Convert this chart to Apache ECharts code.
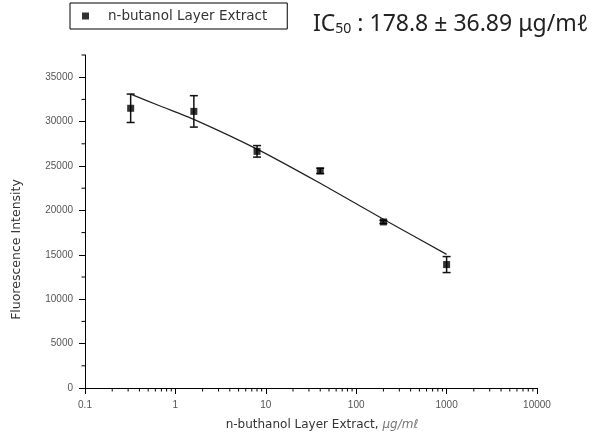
<!DOCTYPE html>
<html>
<head>
<meta charset="utf-8">
<script src="https://cdn.jsdelivr.net/npm/echarts@6/dist/echarts.min.js"></script>
<style>
  html, body { margin: 0; padding: 0; background: #fff; }
  #chart { width: 607px; height: 446px; }
</style>
</head>
<body>
<div id="chart"></div>
<script>
// Extract concentrations (µg/mL), five-fold dilution series
const concentrations = [0.32, 1.6, 8, 40, 200, 1000];
// Mean fluorescence intensity and its standard deviation
const intensityMean = [31500, 31150, 26650, 24450, 18700, 13900];
const intensitySD = [1600, 1770, 650, 300, 180, 900];
// Fitted dose-response curve
const fitConcentrations = [0.32, 0.7, 1.6, 8, 40, 200, 1000];
const fitIntensity = [33100, 31700, 30250, 26900, 23050, 19000, 15050];
// Axis ticks
const yMajorTicks = [0, 5000, 10000, 15000, 20000, 25000, 30000, 35000];
const yMinorTicks = [2500, 7500, 12500, 17500, 22500, 27500, 32500, 37500];
const xDecades = [0.1, 1, 10, 100, 1000];
const xMinorSteps = [2, 3, 4, 5, 6, 7, 8, 9];

const seriesName = 'n-butanol Layer Extract';
const xMinorTicks = [];
xDecades.forEach(d => xMinorSteps.forEach(m => xMinorTicks.push(+(d * m).toPrecision(6))));

const points = concentrations.map((c, i) => [c, intensityMean[i]]);
const errorBars = concentrations.map((c, i) => [c, intensityMean[i] - intensitySD[i], intensityMean[i] + intensitySD[i]]);
const fitLine = fitConcentrations.map((c, i) => [c, fitIntensity[i]]);

const labelFont = '"Liberation Sans", Arial, sans-serif';
const titleFont = '"DejaVu Sans", sans-serif';
const headFont = '"Noto Sans", "Noto Sans CJK KR", sans-serif';

const chart = echarts.init(document.getElementById('chart'), null, { renderer: 'canvas' });

chart.setOption({
  animation: false,
  backgroundColor: '#fff',
  grid: { left: 85, right: 70, top: 55, bottom: 58, containLabel: false },
  legend: {
    data: [seriesName],
    left: 70,
    top: 3,
    orient: 'horizontal',
    icon: 'rect',
    itemWidth: 7,
    itemHeight: 7,
    padding: [6, 20, 6, 12],
    borderColor: '#000',
    borderWidth: 1,
    textStyle: { fontFamily: titleFont, fontSize: 13.5, color: '#333', padding: [0, 0, 0, 14] }
  },
  graphic: [{
    type: 'text',
    left: 313,
    top: 13,
    style: {
      text: '{m|IC}{s|50}{m| : 178.8 ± 36.89 μg/mℓ}',
      rich: {
        m: { fontFamily: headFont, fontSize: 23, fill: '#222', verticalAlign: 'bottom', lineHeight: 30 },
        s: { fontFamily: headFont, fontSize: 14, fill: '#222', verticalAlign: 'bottom', lineHeight: 14 }
      }
    }
  }],
  xAxis: {
    type: 'log',
    logBase: 10,
    min: 0.1,
    max: 10000,
    name: '{a|n-buthanol Layer Extract, }{b|μg/mℓ}',
    nameLocation: 'middle',
    nameGap: 31,
    nameTextStyle: {
      padding: [0, 0, 0, 22],
      rich: {
        a: { fontFamily: titleFont, fontSize: 12, color: '#333' },
        b: { fontFamily: titleFont, fontSize: 12, color: '#777', fontStyle: 'italic' }
      }
    },
    axisLine: { lineStyle: { color: '#000', width: 1 } },
    axisTick: { inside: false, length: 6, lineStyle: { color: '#000', width: 1 } },
    axisLabel: {
      margin: 12, fontFamily: labelFont, fontSize: 10, color: '#555',
      formatter: v => String(+(+v).toPrecision(6))
    },
    splitLine: { show: false }
  },
  yAxis: {
    type: 'value',
    min: 0,
    max: 37500,
    name: 'Fluorescence Intensity',
    nameLocation: 'middle',
    nameGap: 62,
    nameTextStyle: { fontFamily: titleFont, fontSize: 12.5, color: '#333', padding: [0, 56, 0, 0] },
    axisLine: { show: true, lineStyle: { color: '#000', width: 1 } },
    axisTick: { show: true, inside: false, length: 6, customValues: yMajorTicks, lineStyle: { color: '#000', width: 1 } },
    axisLabel: {
      margin: 12, fontFamily: labelFont, fontSize: 10, color: '#555', customValues: yMajorTicks,
      formatter: v => String(v)
    },
    splitLine: { show: false }
  },
  series: [
    {
      name: 'fit',
      type: 'line',
      data: fitLine,
      symbol: 'none',
      smooth: 0.2,
      lineStyle: { color: '#222', width: 1.2 },
      z: 2
    },
    {
      name: seriesName,
      type: 'scatter',
      data: points,
      symbol: 'rect',
      symbolSize: 7,
      itemStyle: { color: '#000' },
      z: 4
    },
    {
      name: 'error',
      type: 'custom',
      data: errorBars,
      encode: { x: 0, y: [1, 2] },
      clip: false,
      z: 3,
      renderItem: (params, api) => {
        const x = api.value(0);
        const lo = api.coord([x, api.value(1)]);
        const hi = api.coord([x, api.value(2)]);
        const cap = 4;
        const style = { stroke: '#111', lineWidth: 1.5 };
        return {
          type: 'group',
          children: [
            { type: 'line', shape: { x1: hi[0], y1: hi[1], x2: lo[0], y2: lo[1] }, style },
            { type: 'line', shape: { x1: hi[0] - cap, y1: hi[1], x2: hi[0] + cap, y2: hi[1] }, style },
            { type: 'line', shape: { x1: lo[0] - cap, y1: lo[1], x2: lo[0] + cap, y2: lo[1] }, style }
          ]
        };
      }
    },
    {
      name: 'xMinor',
      type: 'custom',
      data: xMinorTicks.map(v => [v, 0]),
      clip: false,
      silent: true,
      z: 5,
      renderItem: (params, api) => {
        const p = api.coord([api.value(0), api.value(1)]);
        return { type: 'line', shape: { x1: p[0], y1: p[1], x2: p[0], y2: p[1] + 3.5 }, style: { stroke: '#000', lineWidth: 1 } };
      }
    },
    {
      name: 'yMinor',
      type: 'custom',
      data: yMinorTicks.map(v => [0.1, v]),
      clip: false,
      silent: true,
      z: 5,
      renderItem: (params, api) => {
        const p = api.coord([api.value(0), api.value(1)]);
        return { type: 'line', shape: { x1: p[0], y1: p[1], x2: p[0] - 3.5, y2: p[1] }, style: { stroke: '#000', lineWidth: 1 } };
      }
    }
  ]
});
</script>
</body>
</html>
